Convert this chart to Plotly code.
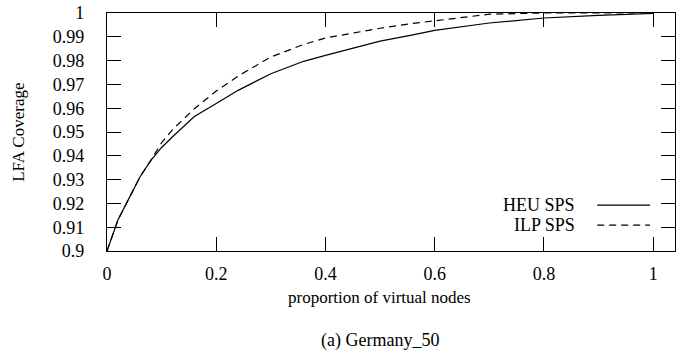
import plotly.graph_objects as go

# proportion of virtual nodes
x_vals = [0, 0.02, 0.04, 0.06, 0.08, 0.1, 0.12, 0.16, 0.2, 0.24, 0.3, 0.36,
          0.4, 0.48, 0.5, 0.56, 0.6, 0.7, 0.8, 0.9, 1.0]
heu_sps = [0.9, 0.913, 0.922, 0.931, 0.938, 0.9435, 0.948, 0.9565, 0.962,
           0.9675, 0.9745, 0.9797, 0.9822, 0.9872, 0.9882, 0.9908, 0.9927,
           0.9958, 0.9979, 0.9990, 0.9998]
ilp_sps = [0.9, 0.913, 0.922, 0.931, 0.938, 0.9455, 0.951, 0.9598, 0.9672,
           0.9735, 0.9815, 0.9868, 0.9895, 0.9928, 0.9936, 0.9956, 0.9968,
           0.9995, 1.0, 1.0, 1.0]

x_ticks = [0, 0.2, 0.4, 0.6, 0.8, 1]
x_tick_labels = ["0", "0.2", "0.4", "0.6", "0.8", "1"]
y_ticks = [0.9, 0.91, 0.92, 0.93, 0.94, 0.95, 0.96, 0.97, 0.98, 0.99, 1.0]
y_tick_labels = ["0.9", "0.91", "0.92", "0.93", "0.94", "0.95", "0.96",
                 "0.97", "0.98", "0.99", "1"]

FONT = "Liberation Serif, Times New Roman, serif"
fig = go.Figure()
fig.add_trace(go.Scatter(x=x_vals, y=heu_sps, mode="lines", name="HEU SPS",
                         line=dict(color="black", width=1.2)))
fig.add_trace(go.Scatter(x=x_vals, y=ilp_sps, mode="lines", name="ILP SPS",
                         line=dict(color="black", width=1.2, dash="7px,5px")))

axis_common = dict(showline=True, linecolor="black", linewidth=1.3,
                   mirror="ticks", ticks="inside", ticklen=14, tickwidth=1,
                   tickcolor="black", showgrid=False, zeroline=False,
                   automargin=False,
                   tickfont=dict(family=FONT, size=18, color="black"))
fig.update_xaxes(range=[0, 1.04], tickvals=x_ticks, ticktext=x_tick_labels,
                 ticklabelstandoff=6, **axis_common)
fig.update_yaxes(range=[0.9, 1.0], tickvals=y_ticks, ticktext=y_tick_labels,
                 ticklabelstandoff=18, **axis_common)

# axis titles
fig.add_annotation(x=0.48, y=-0.197, xref="paper", yref="paper",
                   text="proportion of virtual nodes", showarrow=False,
                   xanchor="center", yanchor="middle",
                   font=dict(family=FONT, size=17, color="black"))
fig.add_annotation(x=-0.157, y=0.5, xref="paper", yref="paper",
                   text="LFA Coverage", showarrow=False, textangle=-90,
                   xanchor="center", yanchor="middle",
                   font=dict(family=FONT, size=17, color="black"))

# legend (text to the left of line sample)
legend_items = [("HEU SPS", "solid", 0.193), ("ILP SPS", "7px,5px", 0.109)]
for label, dash, yp in legend_items:
    fig.add_annotation(x=0.827, y=yp, xref="paper", yref="paper", text=label,
                       showarrow=False, xanchor="right", yanchor="middle",
                       font=dict(family=FONT, size=18, color="black"))
    fig.add_shape(type="line", xref="paper", yref="paper", x0=0.863, x1=0.956,
                  y0=yp, y1=yp, line=dict(color="black", width=1.2, dash=dash))

fig.add_annotation(x=0.48, y=-0.378, xref="paper", yref="paper",
                   text="(a) Germany_50", showarrow=False, yanchor="middle",
                   font=dict(family=FONT, size=18, color="black"))

fig.update_layout(width=692, height=358, showlegend=False,
                  margin=dict(l=107, r=17, t=13, b=107),
                  plot_bgcolor="white", paper_bgcolor="white",
                  font=dict(family=FONT, color="black"))
fig.write_html("out.html",
               config={"displayModeBar": False},
               post_script="document.body.style.margin='0';"
                           "document.body.style.overflow='hidden';")
